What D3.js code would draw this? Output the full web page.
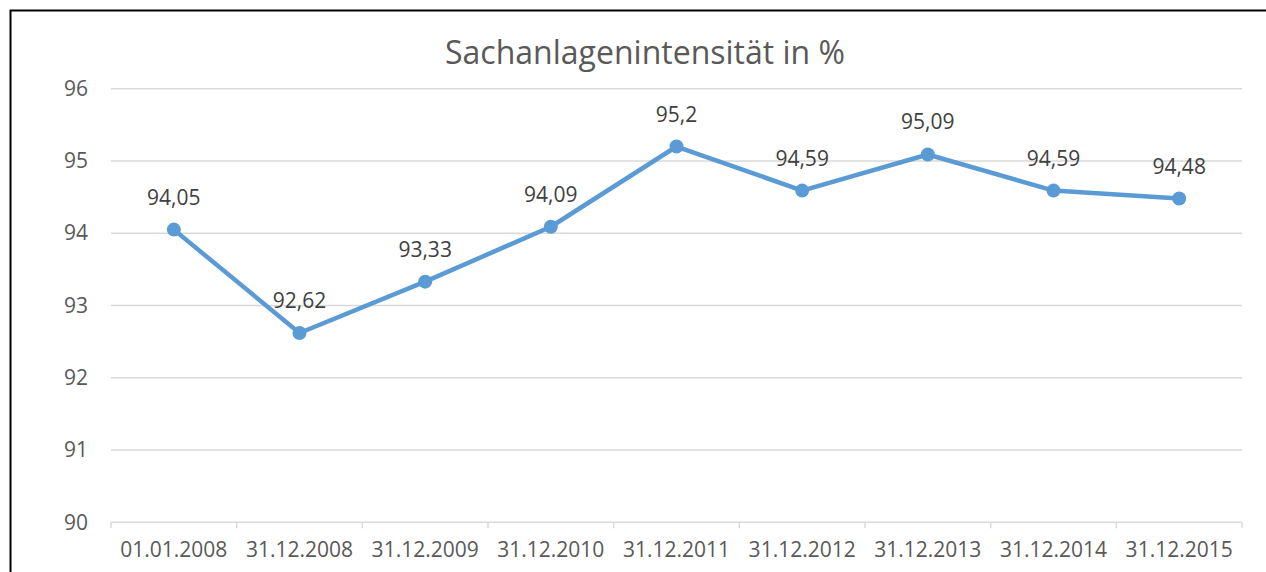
<!DOCTYPE html>
<html>
<head>
<meta charset="utf-8">
<script src="https://d3js.org/d3.v7.min.js"></script>
<style>
  body { margin: 0; background: #fff; }
  svg { display: block; }
  text { font-family: "Open Sans", sans-serif; }
</style>
</head>
<body>
<script>
// data
var categories = ["01.01.2008", "31.12.2008", "31.12.2009", "31.12.2010", "31.12.2011",
                  "31.12.2012", "31.12.2013", "31.12.2014", "31.12.2015"];
var values = [94.05, 92.62, 93.33, 94.09, 95.2, 94.59, 95.09, 94.59, 94.48];
var yTicks = [90, 91, 92, 93, 94, 95, 96];
var title = "Sachanlagenintensität in %";

var w = 1266, h = 572;
var mLeft = 111, mRight = 1242, mTop = 88.7, mBottom = 522.3;

var svg = d3.select("body").append("svg")
  .attr("width", w)
  .attr("height", h);

// chart frame
svg.append("rect")
  .attr("x", 10.5).attr("y", 10.5)
  .attr("width", 1290).attr("height", 600)
  .attr("fill", "none")
  .attr("stroke", "#000")
  .attr("stroke-width", 2);

var x = d3.scaleBand().domain(categories).range([mLeft, mRight]).padding(0);
var y = d3.scaleLinear().domain([90, 96]).range([mBottom, mTop]);

// gridlines
svg.append("g")
  .selectAll("line")
  .data(yTicks.slice(1))
  .enter().append("line")
  .attr("x1", mLeft).attr("x2", mRight)
  .attr("y1", function(d) { return y(d); })
  .attr("y2", function(d) { return y(d); })
  .attr("stroke", "#d9d9d9")
  .attr("stroke-width", 1.5);

// y axis labels
var yAxis = d3.axisLeft(y).tickValues(yTicks).tickFormat(d3.format("d")).tickSize(0).tickPadding(23);
var gy = svg.append("g")
  .attr("transform", "translate(" + mLeft + ",0)")
  .call(yAxis);
gy.select(".domain").remove();
gy.selectAll("text")
  .attr("fill", "#595959")
  .style("font-size", "21px");

// x axis
var xAxis = d3.axisBottom(x).tickSize(0).tickPadding(20);
var gx = svg.append("g")
  .attr("transform", "translate(0," + mBottom + ")")
  .call(xAxis);
gx.select(".domain")
  .attr("stroke", "#d9d9d9")
  .attr("stroke-width", 1.5)
  .attr("d", "M" + mLeft + ",0H" + mRight);
gx.selectAll("text")
  .attr("fill", "#595959")
  .style("font-size", "21px");

// category boundary ticks
var bounds = categories.map(function(c) { return x(c); }).concat([mRight]);
svg.append("g")
  .selectAll("line")
  .data(bounds)
  .enter().append("line")
  .attr("x1", function(d) { return d; })
  .attr("x2", function(d) { return d; })
  .attr("y1", mBottom)
  .attr("y2", mBottom + 6)
  .attr("stroke", "#d9d9d9")
  .attr("stroke-width", 1.5);

// line
var cx = function(d, i) { return x(categories[i]) + x.bandwidth() / 2; };
var line = d3.line()
  .x(cx)
  .y(function(d) { return y(d); });

svg.append("path")
  .datum(values)
  .attr("d", line)
  .attr("fill", "none")
  .attr("stroke", "#5b9bd5")
  .attr("stroke-width", 4.5)
  .attr("stroke-linejoin", "round");

svg.append("g")
  .selectAll("circle")
  .data(values)
  .enter().append("circle")
  .attr("cx", cx)
  .attr("cy", function(d) { return y(d); })
  .attr("r", 7)
  .attr("fill", "#5b9bd5");

// data labels
var fmt = function(d) { return String(d).replace(".", ","); };
svg.append("g")
  .selectAll("text")
  .data(values)
  .enter().append("text")
  .attr("x", cx)
  .attr("y", function(d) { return y(d) - 25; })
  .attr("text-anchor", "middle")
  .attr("fill", "#404040")
  .style("font-size", "21px")
  .text(fmt);

// title
svg.append("text")
  .attr("x", 645)
  .attr("y", 64)
  .attr("text-anchor", "middle")
  .attr("fill", "#595959")
  .style("font-size", "32px")
  .text(title);
</script>
</body>
</html>
